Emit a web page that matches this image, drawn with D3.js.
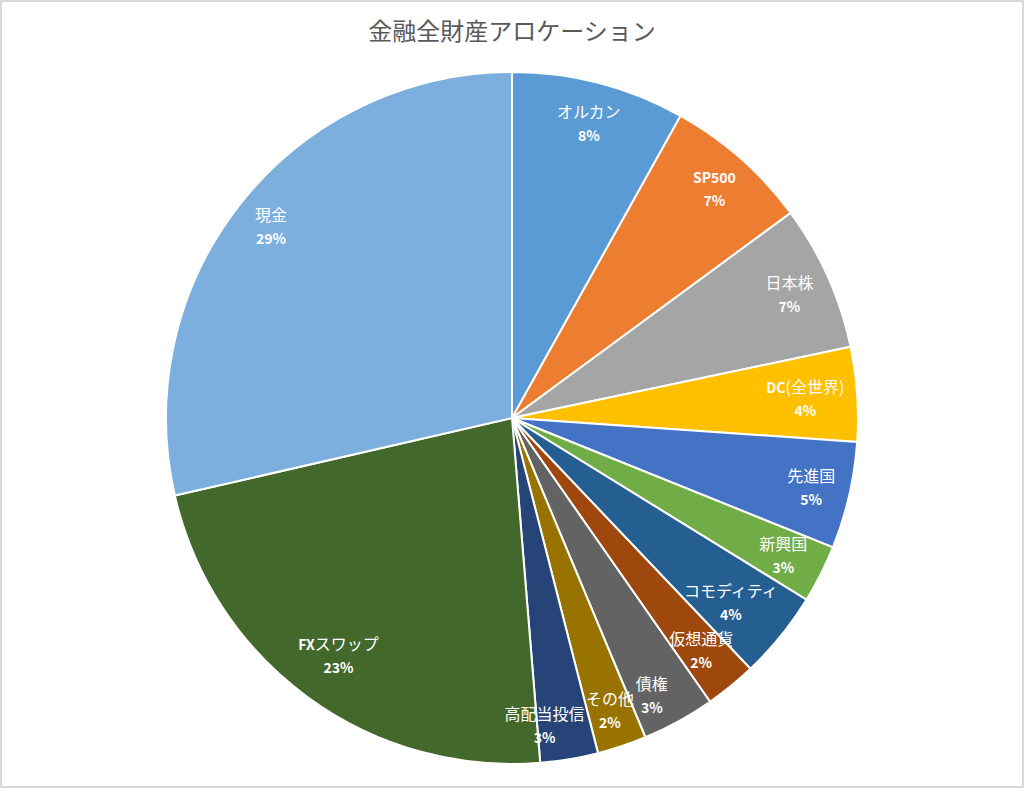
<!DOCTYPE html>
<html>
<head>
<meta charset="utf-8">
<script src="https://cdn.jsdelivr.net/npm/d3@7"></script>
<style>
  html, body { margin: 0; padding: 0; background: #fff; }
  svg { display: block; }
</style>
</head>
<body>
<div id="chart"></div>
<script>
// 金融全財産アロケーション — pie
const title = '金融全財産アロケーション';
const categories = ['オルカン', 'SP500', '日本株', 'DC(全世界)', '先進国', '新興国', 'コモディティ', '仮想通貨', '債権', 'その他', '高配当投信', 'FXスワップ', '現金'];
const values = [8.1, 6.8, 6.8, 4.4, 5.0, 2.7, 4.1, 2.4, 3.4, 2.3, 2.7, 22.7, 28.6];
const colors = ['#5B9BD5', '#ED7D31', '#A5A5A5', '#FFC000', '#4472C4', '#70AD47', '#255E91', '#9E480E', '#636363', '#997300', '#264478', '#43682B', '#7CAFDD'];

const width = 1024, height = 788;
const cx = 512, cy = 418, R = 346;

const svg = d3.select('#chart').append('svg').attr('width', width).attr('height', height);

// chart frame
svg.append('rect')
  .attr('x', 1).attr('y', 1)
  .attr('width', width - 2).attr('height', height - 2)
  .attr('fill', '#fff')
  .attr('stroke', '#d9d9d9')
  .attr('stroke-width', 2);

svg.append('text')
  .attr('x', width / 2)
  .attr('y', 40)
  .attr('text-anchor', 'middle')
  .attr('fill', '#595959')
  .style('font-family', '"Noto Sans CJK JP", "Noto Sans", sans-serif')
  .style('font-size', '24px')
  .text(title);

const data = categories.map((c, i) => ({ name: c, value: values[i], color: colors[i] }));
const total = d3.sum(values);

const pie = d3.pie().sort(null).value(d => d.value);
const arcs = pie(data);
const arc = d3.arc().innerRadius(0).outerRadius(R);

const g = svg.append('g').attr('transform', `translate(${cx},${cy})`);

g.selectAll('path')
  .data(arcs)
  .enter().append('path')
  .attr('d', arc)
  .attr('fill', d => d.data.color)
  .attr('stroke', '#fff')
  .attr('stroke-width', 2);

// labels: name + bold percent, pushed out toward the rim ("inside end")
const labels = g.selectAll('.lbl')
  .data(arcs)
  .enter().append('g')
  .attr('class', 'lbl')
  .style('font-family', '"Noto Sans CJK JP", "Noto Sans", sans-serif')
  .attr('fill', '#fff');

labels.each(function(d) {
  const el = d3.select(this);
  const t1 = el.append('text').attr('text-anchor', 'middle').attr('y', -5).style('font-size', '16px');
  // latin parts bold, japanese parts normal
  d.data.name.split(/([A-Za-z0-9]+)/).filter(s => s.length).forEach(s => {
    const latin = /^[A-Za-z0-9]+$/.test(s);
    t1.append('tspan')
      .style('font-weight', latin ? 'bold' : 'normal')
      .style('font-size', latin ? '14px' : '16px')
      .text(s);
  });
  el.append('text')
    .attr('text-anchor', 'middle')
    .attr('y', 18)
    .style('font-size', '14px')
    .style('font-weight', 'bold')
    .text(Math.round(d.data.value / total * 100) + '%');
});

const pad = 8;
const boxes = [];
function fit(bb, a) {
  const hw = bb.width / 2 + 2, top = bb.y, bot = bb.y + bb.height;
  const sx = Math.sin(a), sy = -Math.cos(a);
  let r = R - pad;
  for (; r > 0; r -= 1) {
    const x = r * sx, y = r * sy;
    const cornerY = Math.max(Math.abs(y + top), Math.abs(y + bot));
    if (Math.hypot(Math.abs(x) + hw, cornerY) <= R - pad) break;
  }
  const x = r * sx, y = r * sy;
  return { x, y, x0: x - bb.width / 2, x1: x + bb.width / 2, y0: y + top, y1: y + bot };
}
function overlaps(p, q) {
  return p.x0 < q.x1 && q.x0 < p.x1 && p.y0 < q.y1 && q.y0 < p.y1;
}
labels.each(function(d, i) {
  const bb = this.getBBox();
  let a = (d.startAngle + d.endAngle) / 2;
  let b = fit(bb, a);
  // slide clockwise until clear of the previous label
  let n = 0;
  while (i > 0 && overlaps(b, boxes[i - 1]) && n < 60) {
    a += Math.PI / 360;
    b = fit(bb, a);
    n++;
  }
  boxes.push(b);
  d3.select(this).attr('transform', `translate(${b.x},${b.y})`);
});
</script>
</body>
</html>
